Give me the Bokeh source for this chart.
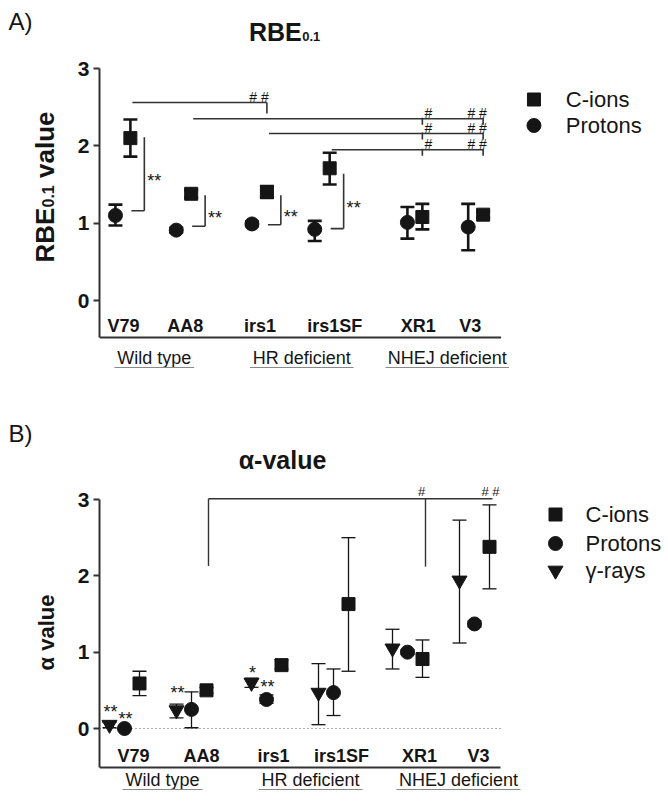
import math
from bokeh.plotting import figure
from bokeh.models import Range1d, FixedTicker
from bokeh.layouts import column, row
from bokeh.embed import file_html
from bokeh.resources import INLINE
from bokeh.core.properties import value

FONT = "Liberation Sans"
INK = "#151515"
LINE = "#333333"

# ---------------- data ----------------
cell_lines = ["V79", "AA8", "irs1", "irs1SF", "XR1", "V3"]
groups = ["Wild type", "HR deficient", "NHEJ deficient"]
y_ticks = [0, 1, 2, 3]
legend_a = ["C-ions", "Protons"]
legend_b = ["C-ions", "Protons", "γ-rays"]

# Panel A: RBE0.1
rbe_cions = [2.10, 1.38, 1.40, 1.71, 1.08, 1.11]
rbe_cions_lo = [1.86, 1.33, 1.33, 1.50, 0.92, 1.07]
rbe_cions_hi = [2.34, 1.43, 1.48, 1.91, 1.25, 1.15]
rbe_protons = [1.10, 0.91, 0.99, 0.92, 1.01, 0.95]
rbe_protons_lo = [0.97, 0.88, 0.96, 0.77, 0.80, 0.65]
rbe_protons_hi = [1.24, 0.94, 1.02, 1.03, 1.21, 1.25]

# Panel B: alpha value
alpha_cions = [0.59, 0.50, 0.83, 1.63, 0.91, 2.38]
alpha_cions_lo = [0.43, 0.46, 0.78, 0.75, 0.67, 1.83]
alpha_cions_hi = [0.75, 0.54, 0.90, 2.50, 1.16, 2.93]
alpha_protons = [0.00, 0.25, 0.38, 0.47, 1.00, 1.37]
alpha_protons_lo = [0.00, 0.01, 0.33, 0.17, 0.97, 1.33]
alpha_protons_hi = [0.00, 0.48, 0.44, 0.78, 1.03, 1.41]
alpha_gamma = [0.05, 0.24, 0.60, 0.47, 1.05, 1.94]
alpha_gamma_lo = [0.01, 0.14, 0.54, 0.05, 0.78, 1.12]
alpha_gamma_hi = [0.08, 0.32, 0.66, 0.85, 1.30, 2.73]

# significance annotations
# (from cell, to cells, labels, bracket level)
sig_a_hash = [(0, [2], ["# #"], 2.56),
              (1, [4, 5], ["#", "# #"], 2.35),
              (2, [4, 5], ["#", "# #"], 2.16),
              (3, [4, 5], ["#", "# #"], 1.95)]
# (cell, label, top level, bottom level)
sig_a_star = [(0, "**", 2.11, 1.16), (1, "**", 1.36, 0.96),
              (2, "**", 1.36, 0.98), (3, "**", 1.64, 0.93)]
sig_b_hash = (1, [4, 5], ["#", "# #"], 3.01)
sig_b_drop = [2.13, 2.12]
# (cell, series, label, level)
sig_b_star = [(0, "gamma", "**", 0.275), (0, "protons", "**", 0.183),
              (1, "gamma", "**", 0.511), (2, "gamma", "*", 0.786),
              (2, "protons", "**", 0.59)]

# ---------------- layout (x data units = page pixels) ----------------
A_center = [113, 174, 250, 313, 406, 467]
A_label_x = [121, 183, 258, 333, 417, 469]
A_group_x = [152, 300, 446]
B_center = [124, 191, 266, 333, 407, 474]
B_label_x = [133, 201, 273, 341, 419, 478]
B_group_x = [162, 310, 458]
group_half_w = [40, 52, 62]
OFF = 15
CAP = 7
GUTTER = 67
RIGHT = 663
TOTAL_H = 798


def base_fig(frame_left, height, y_lo, y_hi, axis_lo):
    p = figure(width=RIGHT - GUTTER, height=height, x_range=Range1d(frame_left, RIGHT),
               y_range=Range1d(y_lo, y_hi), output_backend="svg",
               toolbar_location=None, x_axis_location=None, y_axis_location="left",
               min_border_left=frame_left - GUTTER, min_border_right=0,
               min_border_top=0, min_border_bottom=0,
               background_fill_color="white", border_fill_color="white")
    p.outline_line_color = None
    for g in p.grid:
        g.visible = False
    ax = p.yaxis[0]
    ax.ticker = FixedTicker(ticks=y_ticks)
    ax.bounds = (axis_lo, 3)
    ax.axis_line_width = 2
    ax.axis_line_color = LINE
    ax.major_tick_line_width = 2
    ax.major_tick_line_color = LINE
    ax.major_tick_out = 6
    ax.major_tick_in = 0
    ax.minor_tick_line_color = None
    ax.major_label_text_font = FONT
    ax.major_label_text_font_style = "bold"
    ax.major_label_text_font_size = "21px"
    ax.major_label_text_color = INK
    ax.major_label_standoff = 4
    return p


def errbars(p, xs, lo, hi, lw):
    p.segment(x0=xs, y0=lo, x1=xs, y1=hi, line_width=lw, line_color=INK)
    p.segment(x0=[x - CAP for x in xs], y0=lo, x1=[x + CAP for x in xs], y1=lo,
              line_width=lw, line_color=INK)
    p.segment(x0=[x - CAP for x in xs], y0=hi, x1=[x + CAP for x in xs], y1=hi,
              line_width=lw, line_color=INK)


def txt(p, xs, ys, texts, size, bold=False, align="center", angle=0.0):
    p.text(x=xs, y=ys, text=texts, text_font=value(FONT), text_font_size=value(size),
           text_font_style="bold" if bold else "normal", text_align=align,
           text_baseline="middle", text_color=INK, angle=angle)


# ================= left gutter (panel letters, y-axis titles) =================
def gy(py): return TOTAL_H - py

gut = figure(width=GUTTER, height=TOTAL_H, x_range=Range1d(0, GUTTER),
             y_range=Range1d(0, TOTAL_H), output_backend="svg", toolbar_location=None,
             x_axis_location=None, y_axis_location=None,
             min_border_left=0, min_border_right=0, min_border_top=0, min_border_bottom=0,
             background_fill_color="white", border_fill_color="white")
gut.outline_line_color = None
for g in gut.grid:
    g.visible = False

txt(gut, [8], [gy(21)], ["A)"], "24px", align="left")
txt(gut, [8], [gy(433)], ["B)"], "24px", align="left")
# RBE0.1 value (rotated, with subscript)
txt(gut, [44], [gy(262)], ["RBE"], "26px", bold=True, align="left", angle=math.pi / 2)
txt(gut, [47.5], [gy(207)], ["0.1"], "16px", bold=True, align="left", angle=math.pi / 2)
txt(gut, [44], [gy(177.5)], ["value"], "26px", bold=True, align="left", angle=math.pi / 2)
txt(gut, [46], [gy(632)], ["α value"], "22px", bold=True, align="center", angle=math.pi / 2)

# ================= Panel A =================
PXA, Y0A = 77.33, 300.0
def ya(py): return (Y0A - py) / PXA
def dya(px): return px / PXA

pa = base_fig(97, 400, ya(400), ya(0), ya(337))
a_sq = [c + OFF for c in A_center]

pa.segment(x0=[97], y0=[ya(337)], x1=[500], y1=[ya(337)], line_width=2, line_color=LINE)

errbars(pa, A_center, rbe_protons_lo, rbe_protons_hi, 2.6)
errbars(pa, a_sq, rbe_cions_lo, rbe_cions_hi, 2.6)
pa.scatter(x=A_center, y=rbe_protons, marker="circle", size=14, fill_color=INK, line_color=INK)
pa.scatter(x=a_sq, y=rbe_cions, marker="square", size=13, fill_color=INK, line_color=INK)

for frm, tos, labs, lev in sig_a_hash:
    x_left = a_sq[frm] + 2
    ticks = [a_sq[t] for t in tos]
    pa.segment(x0=[x_left], y0=[lev], x1=[ticks[-1]], y1=[lev], line_width=1.6, line_color=LINE)
    if len(ticks) == 1:
        pa.segment(x0=ticks, y0=[lev], x1=ticks, y1=[lev - dya(11)], line_width=1.6, line_color=LINE)
        xs = [ticks[0] - 8]
    else:
        pa.segment(x0=ticks, y0=[lev + dya(1)] * len(ticks), x1=ticks,
                   y1=[lev - dya(6)] * len(ticks), line_width=1.6, line_color=LINE)
        xs = [t + 6 for t in ticks[:-1]] + [ticks[-1] - 6]
    txt(pa, xs, [lev + dya(5.5)] * len(xs), labs, "14px")

for i, lab, top, bot in sig_a_star:
    xv = a_sq[i] + 14
    pa.segment(x0=[xv], y0=[top], x1=[xv], y1=[bot], line_width=1.6, line_color=LINE)
    pa.segment(x0=[a_sq[i] + 1], y0=[bot], x1=[xv], y1=[bot], line_width=1.6, line_color=LINE)
    mid = (top + bot) / 2
    txt(pa, [a_sq[i] + 17], [mid - dya(7)], [lab], "18px", align="left")

txt(pa, A_label_x, [ya(325)] * 6, cell_lines, "18px", bold=True)
txt(pa, A_group_x, [ya(357)] * 3, groups, "18px")
pa.segment(x0=[c - w for c, w in zip(A_group_x, group_half_w)], y0=[ya(367)] * 3,
           x1=[c + w for c, w in zip(A_group_x, group_half_w)], y1=[ya(367)] * 3,
           line_width=1.2, line_color="#8a8a8a")

leg_rows_a = [99, 125]
pa.scatter(x=[533], y=[ya(leg_rows_a[0])], marker="square", size=13, fill_color=INK, line_color=INK)
pa.scatter(x=[533], y=[ya(leg_rows_a[1])], marker="circle", size=14, fill_color=INK, line_color=INK)
txt(pa, [565] * 2, [ya(r) for r in leg_rows_a], legend_a, "22px", align="left")

txt(pa, [247], [ya(31)], ["RBE"], "25px", bold=True, align="left")
txt(pa, [300.5], [ya(35.5)], ["0.1"], "13px", bold=True, align="left")

# ================= Panel B =================
PXB, Y0B = 76.33, 728.0
def yb(py): return (Y0B - py) / PXB
def dyb(px): return px / PXB

pb = base_fig(99, 398, yb(798), yb(400), yb(767))
b_tri = [c - OFF for c in B_center]
b_sq = [c + OFF for c in B_center]

pb.segment(x0=[99], y0=[yb(767)], x1=[500], y1=[yb(767)], line_width=2, line_color=LINE)
pb.segment(x0=[99], y0=[0], x1=[500], y1=[0], line_width=1.2, line_color="#555555", line_dash="1 3")

errbars(pb, b_tri, alpha_gamma_lo, alpha_gamma_hi, 1.3)
errbars(pb, B_center, alpha_protons_lo, alpha_protons_hi, 1.3)
errbars(pb, b_sq, alpha_cions_lo, alpha_cions_hi, 1.3)
pb.scatter(x=b_tri, y=alpha_gamma, marker="inverted_triangle", size=15, fill_color=INK, line_color=INK)
pb.scatter(x=B_center, y=alpha_protons, marker="circle", size=14, fill_color=INK, line_color=INK)
pb.scatter(x=b_sq, y=alpha_cions, marker="square", size=13, fill_color=INK, line_color=INK)

frm, tos, labs, lev = sig_b_hash
x_left = b_sq[frm] + 2
ticks = [b_sq[t] + 3 for t in tos]
pb.segment(x0=[x_left], y0=[lev], x1=[ticks[-1]], y1=[lev], line_width=1.4, line_color=LINE)
pb.segment(x0=[x_left, ticks[0]], y0=[lev, lev], x1=[x_left, ticks[0]], y1=sig_b_drop,
           line_width=1.4, line_color=LINE)
txt(pb, [ticks[0] - 4, ticks[-1] - 2], [lev + dyb(7)] * 2, labs, "13px")

series_x = {"gamma": b_tri, "protons": B_center}
for i, ser, lab, lev in sig_b_star:
    txt(pb, [series_x[ser][i] + 1], [lev - dyb(4)], [lab], "18px")

txt(pb, B_label_x, [yb(755)] * 6, cell_lines, "18px", bold=True)
txt(pb, B_group_x, [yb(779)] * 3, groups, "18px")
pb.segment(x0=[c - w for c, w in zip(B_group_x, group_half_w)], y0=[yb(789)] * 3,
           x1=[c + w for c, w in zip(B_group_x, group_half_w)], y1=[yb(789)] * 3,
           line_width=1.2, line_color="#8a8a8a")

leg_rows_b = [514, 543, 570]
pb.scatter(x=[555], y=[yb(leg_rows_b[0])], marker="square", size=13, fill_color=INK, line_color=INK)
pb.scatter(x=[555], y=[yb(leg_rows_b[1])], marker="circle", size=14, fill_color=INK, line_color=INK)
pb.scatter(x=[555], y=[yb(leg_rows_b[2])], marker="inverted_triangle", size=15, fill_color=INK, line_color=INK)
txt(pb, [585] * 3, [yb(r) for r in leg_rows_b], legend_b, "22px", align="left")

txt(pb, [282], [yb(459)], ["α-value"], "25px", bold=True, align="center")

layout = row(gut, column(pa, pb, spacing=0), spacing=0)
open("out.html", "w").write(file_html(layout, INLINE))
